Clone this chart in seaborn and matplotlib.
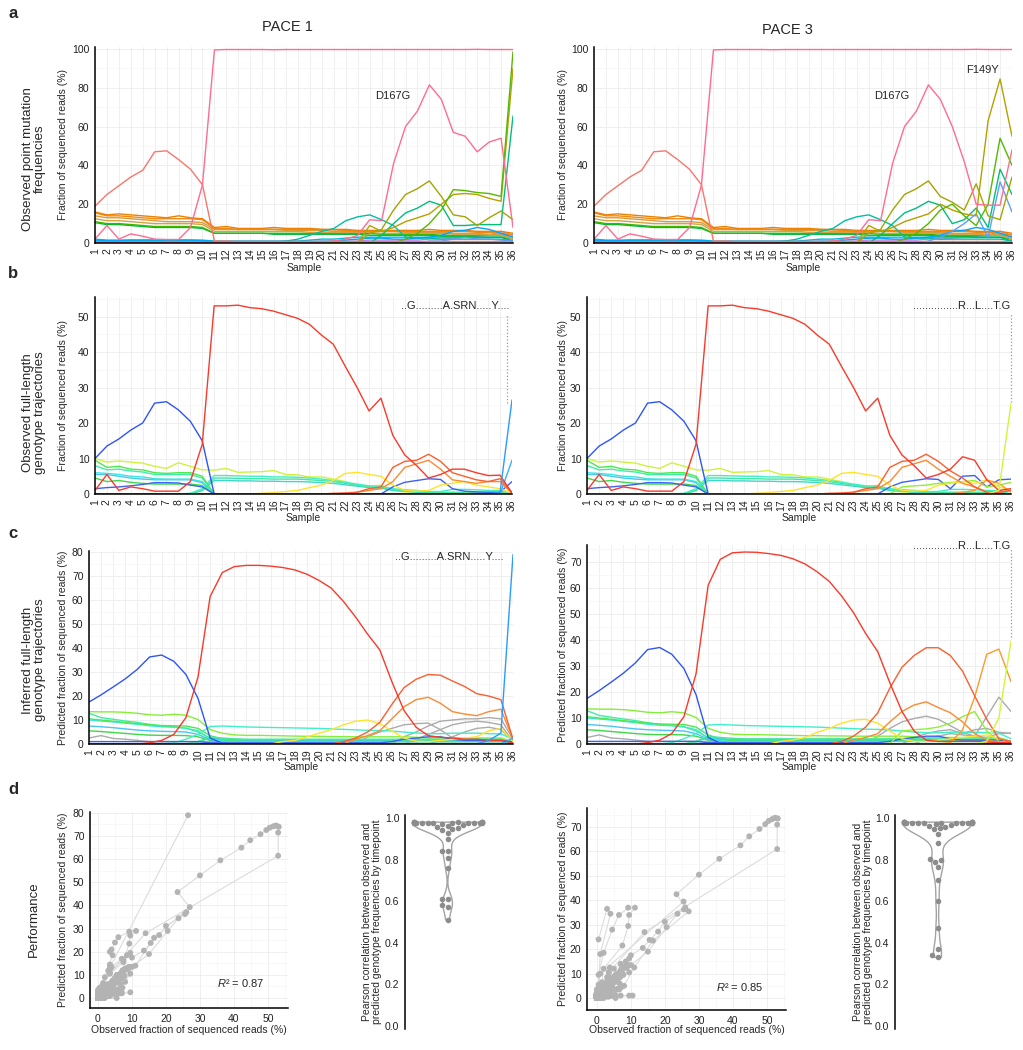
import matplotlib
matplotlib.use("Agg")  # no display
import matplotlib.pyplot as plt
from matplotlib.ticker import MultipleLocator, FormatStrFormatter
import pandas as pd
import seaborn as sns

W, H = 1023, 1050
SAMPLES = list(range(1, 37))

# ---------------------------------------------------------------- panel a
# point mutation frequencies (%), samples 1..36
A_FIX = [2, 9, 2, 4.7, 3.5, 2, 1.8, 1.8, 8, 30, 99.5, 99.7, 99.7, 99.7, 99.7, 99.6, 99.7, 99.7,
         99.7, 99.7, 99.7, 99.7, 99.7, 99.7, 99.7, 99.7, 99.7, 99.7, 99.7, 99.7, 99.7, 99.7, 99.8, 99.7, 99.7, 99.7]
A_EARLY = [19, 25, 29.5, 34, 37.5, 47, 47.5, 43, 38, 30, 1, 1, 0.8, 0.8, 0.8, 0.8, 0.8, 0.8,
           0.8, 0.8, 0.8, 0.8, 0.8, 0.8, 0.8, 0.8, 0.8, 0.8, 0.8, 0.8, 0.8, 0.8, 0.8, 0.8, 0.8, 0.5]
A_D167G_P1 = [0.3, 0.3, 0.3, 0.3, 0.3, 0.3, 0.3, 0.3, 0.3, 0.3, 0.3, 0.3, 0.3, 0.3, 0.3, 0.3, 0.3, 0.3,
              0.3, 0.5, 1, 2, 4, 12, 11.5, 41, 60, 68, 81.5, 74, 57, 55, 47, 52, 54, 8]
A_D167G_P3 = A_D167G_P1[:30] + [60, 42, 20, 19.5, 19.5, 48]
A_ORANGE1 = [16, 14.5, 15, 14.5, 14, 13.5, 13, 14, 13, 12.5, 8, 8.5, 7.5, 7.5, 7.5, 8, 7.5, 7.5,
             7.5, 7, 7, 7, 6.5, 6.5, 6.5, 6.5, 6.5, 6.5, 7, 6.5, 6.5, 6.5, 6, 6, 6, 5]
A_ORANGE2 = [15.5, 14, 14, 13.5, 13, 12.5, 12.5, 12.5, 12.5, 12, 7.5, 7.5, 7, 7, 7, 7, 7, 7,
             7, 7, 6.8, 6.5, 6, 6, 6, 6, 6, 6, 6, 6, 6, 6, 5.5, 5.5, 5, 4]
A_TAN1 = [14, 13, 13, 12.5, 12, 11.5, 11, 11, 11, 10.5, 7, 7, 7, 7, 7, 7, 6.5, 6.5,
          6.5, 6.5, 6, 6, 6, 6, 6, 6, 5.5, 5.5, 5.5, 5.5, 5, 5, 5, 4.5, 4.5, 3]
A_TAN2 = [12.5, 11.5, 11.5, 11, 10.5, 10, 10, 10, 10, 9.5, 6, 6, 6, 6, 6, 6, 6, 6,
          5.5, 5.5, 5.5, 5.5, 5.5, 5.5, 5, 5, 5, 5, 5, 5, 4.5, 4.5, 4.5, 4, 4, 2]
A_GREEN1 = [11, 10, 10, 9.5, 9, 8.5, 8.5, 8.5, 8.5, 8, 5, 5, 5, 5, 5, 5, 5, 5,
            5, 5, 5, 5, 5, 5, 4.5, 4.5, 4.5, 4.5, 4.5, 4, 4, 4, 4, 4, 4, 2]
A_GREEN2 = [10.5, 9.5, 9.5, 9, 8.5, 8, 8, 8, 8, 7.5, 5, 5, 5, 5, 5, 4.5, 4.5, 4.5,
            4.5, 4.5, 4.5, 4.5, 4.5, 4, 4, 4, 4, 4, 4, 3.5, 3.5, 3.5, 3, 3, 3, 1]
A_CYAN = [2, 1.5, 1.5, 1.5, 1.5, 1.5, 1.5, 1.5, 1.5, 1.5, 1, 1, 1, 1, 1, 1, 1, 1,
          1.5, 2, 2, 2.5, 3, 3, 3, 3, 3, 3, 3, 3, 3, 3, 3, 3, 3, 2]
A_BLUE = [1.5, 1.2, 1.2, 1.5, 1.5, 1.5, 1.5, 1.5, 1.5, 1.2, 0.8, 0.8, 0.8, 0.8, 0.8, 0.8, 0.8, 0.8,
          0.8, 1, 1, 1.5, 2, 2.5, 2.5, 2, 2, 2.5, 3, 4, 6, 6.5, 8, 7, 5, 3]
A_PURPLE = [0.5, 0.5, 0.5, 0.5, 0.5, 0.5, 0.5, 0.5, 0.5, 0.5, 0.3, 0.3, 0.3, 0.3, 0.3, 0.3, 0.3, 0.3,
            0.3, 0.3, 0.5, 0.8, 1, 1.5, 1.5, 1.5, 1.5, 1.5, 2, 2, 2.5, 3, 3.5, 4, 6, 4]
A_TEAL1 = [1, 1, 1, 1, 1, 1, 1, 1, 1, 1, 0.5, 0.5, 0.5, 0.5, 0.5, 0.5, 1, 2,
           4, 6, 7.5, 11.5, 13.5, 14.5, 12, 9, 3, 2.5, 2.5, 2, 2, 2, 2, 2, 2, 1]
A_TEAL2_P1 = [0] * 24 + [4, 10, 15.5, 18, 21.5, 19.5, 9, 9, 9.5, 9.5, 9.5, 65.5]
A_TEAL2_P3 = A_TEAL2_P1[:30] + [10, 12, 18, 8, 38, 25]
A_OLIVE1_P1 = [0] * 23 + [5, 7, 17, 25, 28, 32, 24, 14.5, 13.5, 9, 13, 16.5, 12]
A_OLIVE1_P3 = A_OLIVE1_P1[:30] + [21, 17, 30.5, 14, 12, 34]
A_OLIVE2_P1 = [0] * 23 + [9, 6, 8, 11, 13, 15, 20, 25, 25.5, 25, 23, 21.5, 90]
A_OLIVE2_P3 = A_OLIVE2_P1[:30] + [17, 15, 14, 63, 84.5, 55]
A_GREENL_P1 = [0] * 26 + [2, 5, 10, 17, 27.5, 27, 26, 25.5, 24, 98.5]
A_GREENL_P3 = A_GREENL_P1[:30] + [20, 14, 9, 20, 54, 40]
A_SKY_P1 = [0] * 28 + [1, 1, 2, 3, 2, 2, 1.5, 1]
A_SKY_P3 = [0] * 28 + [1, 3, 6, 10, 15, 3, 31.5, 16]

A_COLORS = {
    "purple": "#B983FF", "blue": "#00A5FF", "cyan": "#00BCD8", "sky": "#619CFF",
    "green2": "#00BA38", "green1": "#39B600", "tan2": "#CDA648", "tan1": "#D99B3C",
    "orange2": "#F08A12", "orange1": "#EE8000", "teal1": "#00BFA4", "teal2": "#00BF7D",
    "olive1": "#A3A500", "olive2": "#B5A000", "greenl": "#55B800",
    "early": "#F8766D", "d167g": "#FF6C91", "fix": "#FF6C91",
}

# ---------------------------------------------------------------- panels b / c
# observed (B_) and inferred (C_) full-length genotype trajectories (%)
B_RED_P1 = [1, 5.5, 1, 2, 1.5, 0.8, 0.8, 0.8, 3.5, 14, 53, 53, 53.2, 52.5, 52.2, 51.5, 50.5, 49.5,
            47.8, 44.8, 42.2, 36, 30, 23.4, 27, 16.5, 11, 8, 4.5, 5.5, 7, 7, 6, 5.2, 5.3, 0.3]
B_RED_P3 = B_RED_P1[:30] + [7, 10.5, 9.5, 4, 1, 1.5]
C_RED_P1 = [0, 0, 0, 0, 0, 0.5, 1.5, 4, 11, 28, 61.5, 71.5, 74, 74.5, 74.5, 74.2, 73.6, 72.6,
            70.8, 68.2, 65, 59.5, 53, 45.8, 39.3, 26, 14, 7, 3.5, 2.8, 2.5, 2, 2, 1.5, 1.5, 0.5]
C_RED_P3 = [0, 0, 0, 0, 0, 0.5, 1.5, 4, 10.5, 27, 61, 71, 73.5, 73.8, 73.7, 73.2, 72.5, 71.2,
            69.2, 66.2, 62.5, 57, 50.5, 42.5, 35.5, 23.5, 12.5, 5, 1.5, 1, 1, 1, 1, 0.8, 0.5, 0.5]

B_RED2_P1 = [0] * 20 + [0.2, 0.3, 0.5, 1.5, 2, 7.5, 9.2, 9.5, 11.2, 9.2, 6, 5, 4, 3.5, 4.3, 0.3]
B_RED2_P3 = B_RED2_P1[:30] + [6.5, 4.5, 2, 0.5, 0.5, 1]
C_RED2_P1 = [0] * 21 + [1, 2.5, 5, 9, 16.5, 23.5, 27, 29, 28.7, 26.3, 24, 21, 20, 18.5, 2]
C_RED2_P3 = [0] * 21 + [1, 3, 6.5, 12, 21.5, 29.5, 34, 37, 37, 34, 28, 18.5, 9.5, 2, 1]

B_ORANGE_P1 = [0] * 22 + [0.5, 1, 1.5, 3.5, 7.5, 8.5, 9.5, 7, 4, 3.5, 3, 3.5, 3.5, 0.2]
B_ORANGE_P3 = B_ORANGE_P1[:30] + [5, 3, 2, 0.5, 0.5, 1]
C_ORANGE_P1 = [0] * 22 + [2, 3.5, 5.5, 10.5, 15.5, 18.5, 19.5, 17, 13.5, 12.5, 11.8, 13.5, 14.5, 2]
C_ORANGE_P3 = [0] * 22 + [1.5, 2.5, 4, 8.5, 12.5, 15, 16.2, 14, 12, 8.5, 4, 1.5, 0.8, 0.5]

B_YELLOW_P1 = [0] * 14 + [0.2, 0.4, 0.7, 1, 1.8, 2.5, 3.8, 5.8, 6.1, 5.5, 5, 2.5, 1, 0.8,
                          1, 2.5, 3, 3.5, 2.5, 2, 1.5, 0.2]
B_YELLOW_P3 = B_YELLOW_P1[:30] + [3, 3.5, 3, 4, 2, 1]
C_YELLOW_P1 = [0] * 16 + [1, 1.5, 3, 4.5, 6, 8, 9.5, 10, 8.5, 5.5, 2.5, 1.2, 1, 1.5, 2, 2.5, 3, 5.5, 6.5, 1]
C_YELLOW_P3 = [0] * 16 + [1, 1.5, 2.5, 4.5, 6, 8, 9.2, 9.5, 8, 5, 2, 1, 1, 1.5, 2, 2.5, 3, 3.5, 2, 1]

B_BLUE = [10, 13.5, 15.5, 18, 20, 25.6, 26, 23.7, 20.5, 15] + [0] * 26
C_BLUE = [17.5, 20.5, 23.8, 27.2, 31.2, 36.3, 37.1, 34.5, 29, 19, 2.5, 0.3] + [0] * 24
B_BLUE2_P1 = [1.5, 1.8, 2, 2.3, 2.7, 3.2, 3.2, 3.1, 2.5, 2] + [0] * 15 + \
             [2, 3.3, 3.8, 4.3, 4.1, 1.5, 0.8, 0.6, 0.5, 0.5, 3.5]
B_BLUE2_P3 = B_BLUE2_P1[:30] + [1.5, 5, 5.2, 2, 4, 4.2]
C_BLUE2 = [1, 1, 1, 1, 1, 1, 1, 1, 1, 1] + [0.5] * 15 + [1, 2, 2.5, 3, 3, 2, 1.5, 1.5, 1.5, 1.5, 1]

B_YGREEN = [10, 9, 9.3, 9, 8.7, 7.8, 7.2, 8.8, 7.8, 6.8, 6.7, 7.2, 6.1, 6.2, 6.3, 6.6, 5.5, 5.4,
            4.8, 4.8, 4.2, 3.5, 2.5, 2, 2.5, 1, 0.6, 0.5, 0.3, 0.3, 0.3, 0.3, 0.3, 0.3, 0.3, 0]
C_YGREEN = [13.5, 13.4, 13.4, 13.2, 12.8, 12.2, 12, 12.4, 12, 10.2, 6, 4.5, 3.8, 3.6, 3.6, 3.5, 3.4, 3.3,
            3.2, 3.2, 3.1, 3.1, 3, 3, 3, 3, 3, 2.8, 2.5, 2.5, 2.5, 2.5, 2.5, 2.5, 2.5, 1]
B_GREEN1 = [9.5, 7.5, 7.8, 7, 6.8, 6, 5.8, 6, 6, 5] + [0] * 26
C_GREEN1 = [10.5, 10, 9.5, 9, 8.5, 8, 7.7, 7.6, 7.5, 6.5, 3.5, 2] + [1.5] * 23 + [0.5]
B_AQUA1 = [8, 6.8, 7, 6.5, 6.2, 5.5, 5.5, 5.5, 5.5, 4.5] + [0] * 26
C_AQUA1 = [12.8, 11, 10.3, 9.6, 9, 8.2, 7.5, 7.2, 6.6, 5, 2.5, 1.8] + [1.5] * 23 + [0.5]
B_CYAN1 = [6, 5.8, 5.5, 5, 4.8, 4.3, 4.2, 4.2, 4.2, 3.5] + [0] * 26
C_CYAN1 = [10, 9.6, 9.2, 8.7, 8.2, 7.6, 7.2, 7, 6.6, 5.5, 2.2, 1.5] + [1.2] * 23 + [0.5]
B_SKY1 = [5.5, 5.5, 5, 4.5, 4.2, 4, 4, 4, 4, 3.2] + [0] * 26
C_SKY1 = [7.5, 7.2, 6.8, 6.3, 5.8, 5.5, 5.3, 5.2, 5, 4, 1.8, 1.2] + [1] * 23 + [0.5]
B_GREEN2 = [4.5, 3.5, 3.8, 3.3, 3, 2.8, 2.8, 2.8, 2.8, 2.4] + [0] * 26
C_GREEN2 = [5.5, 5.2, 4.8, 4.4, 4, 3.7, 3.6, 3.6, 3.5, 3, 1.5, 1.2] + [1] * 23 + [0.5]

B_CYANL = [0] * 8 + [0.2, 1.5, 5.2, 5.2, 5.1, 5, 5, 4.8, 4.8, 4.7, 4.5, 4.2, 3.8, 3.3, 2.8, 2.3,
                     2.2, 1.5, 1.2, 1, 0.7, 0.7, 1.3, 1.3, 1.2, 1, 1, 0]
C_CYANL = [0] * 7 + [0.5, 2, 4, 7.3, 7.5, 7.3, 7.1, 7, 6.9, 6.8, 6.7, 6.6, 6.5, 6.3, 6.1, 5.9, 5.7,
                     5.6, 5.4, 5, 4.6, 4.3, 4.3, 4.5, 4.5, 4.5, 4.3, 4.2, 2]
B_AQUAL = [0] * 9 + [1, 4.5, 4.5, 4.4, 4.3, 4.3, 4.2, 4.2, 4.2, 4, 3.8, 3.5, 3, 2.5, 2, 1.8, 1.2,
                     1, 0.8, 0.5, 0.5, 0.5, 0.5, 0.5, 0.5, 0.5, 0]
C_AQUAL = [0] * 9 + [1, 3, 2.5, 2.2] + [2] * 22 + [0.5]
B_TEALL = [0] * 9 + [1, 3.8, 3.8, 3.7, 3.7, 3.6, 3.6, 3.5, 3.5, 3.4, 3.2, 3, 2.6, 2.2, 1.8, 1.6, 1,
                     0.8, 0.5, 0.3, 0.3, 0.3, 0.3, 0.3, 0.3, 0.3, 0]
C_TEALL = [0] * 9 + [0.8, 2.5, 2, 1.8] + [1.6] * 22 + [0.5]

# last genotype of each run (marked by sequence label)
B_FINAL_P1 = [0] * 34 + [0.5, 26.5]
C_FINAL_P1 = [0] * 33 + [1.5, 4.5, 79]
B_SKY2_P1 = [0] * 35 + [9.5]
C_SKY2_P1 = [0] * 35 + [2.5]
B_FINAL_P3 = [0] * 34 + [1, 25.5]
C_FINAL_P3 = [0] * 33 + [1, 10, 39.5]
B_ORANGE2_P3 = [0] * 31 + [0.5, 1, 4, 3, 0.5]
C_ORANGE2_P3 = [0] * 30 + [0.5, 5.5, 18, 34.5, 36.5, 24]
B_GREENL_P3 = [0] * 26 + [2, 2.3, 2.5, 3, 3.2, 3.5, 3.8, 2, 2.5, 3.3]
C_GREENL_P3 = [0] * 26 + [5, 5.5, 5.8, 6.5, 8, 10.5, 12.5, 5, 1, 0.5]

# inferred-only genotypes (grey)
C_GREY0 = [2.5, 3.5, 2.3, 2, 1.5] + [1] * 31
C_GREY1_P1 = [0] * 23 + [3, 5, 6.5, 8, 8.5, 8.7, 6, 2.5, 2, 2, 2, 2, 0.5]
C_GREY2_P1 = [0] * 26 + [3, 5, 7.5, 9.5, 10, 10.5, 10.5, 11, 10.5, 2]
C_GREY3_P1 = [0] * 27 + [2, 4, 6, 8, 9, 9.5, 9, 8, 1]
C_GREY4_P1 = [0] * 29 + [1.5, 3, 5, 6.5, 7, 6, 1]
C_GREY1_P3 = [0] * 24 + [3, 6, 8.5, 9.8, 10.7, 9.5, 7, 4.5, 3, 10.5, 18, 12.5]
C_GREY2_P3 = [0] * 27 + [2.5, 4, 5, 5.5, 4, 5.5, 6, 4.5, 4]
C_GREY3_P3 = [0] * 28 + [2, 3, 4, 3.5, 3, 2.5, 4, 4.2]

GENO_COLORS_B = {
    "green2": "#3ED84A", "sky1": "#4DC4F7", "cyan1": "#3CE6E0", "aqua1": "#3CEFA8",
    "green1": "#4EE84E", "ygreen": "#CFF23F", "tealL": "#3ED6D0", "aquaL": "#44E6A0",
    "cyanL": "#40EFC8", "greenL": "#8FEF3A", "blue2": "#3C62F4", "yellow": "#FFE32B",
    "orange": "#FB8A33", "orange2": "#FF9A2A", "red2": "#FB5E2E", "blue": "#2F55F5",
    "red": "#F93A2A", "sky2": "#3AB0FF", "final": None,
}
GREY = "#ABABAB"

# ---------------------------------------------------------------- panel d
CORR_P1 = [0.51, 0.57, 0.58, 0.61, 0.612, 0.76, 0.81, 0.84, 0.842, 0.90, 0.93, 0.94,
           0.945, 0.95, 0.955, 0.96, 0.965, 0.97, 0.975, 0.975, 0.976, 0.976, 0.977, 0.977,
           0.977, 0.978, 0.978, 0.978, 0.978, 0.979, 0.979, 0.979, 0.98, 0.98, 0.98, 0.98]
CORR_P3 = [0.33, 0.34, 0.37, 0.47, 0.60, 0.70, 0.765, 0.79, 0.80, 0.802, 0.88, 0.925,
           0.945, 0.95, 0.955, 0.96, 0.965, 0.97, 0.975, 0.975, 0.976, 0.976, 0.977, 0.977,
           0.977, 0.978, 0.978, 0.978, 0.978, 0.979, 0.979, 0.979, 0.98, 0.98, 0.98, 0.98]
R2_TEXT = {"P1": "0.87", "P3": "0.85"}

SEQ_P1 = "..G.........A.SRN.....Y...."
SEQ_P3 = "...............R...L....T.G"


def add_axes(fig, box):
    """box = (left, top, right, bottom) in pixels."""
    x0, y0, x1, y1 = box
    return fig.add_axes([x0 / W, 1 - y1 / H, (x1 - x0) / W, (y1 - y0) / H])


def long_frame(series):
    rows = []
    for name, vals in series.items():
        assert len(vals) == 36, name
        rows += [(s, v, name) for s, v in zip(SAMPLES, vals)]
    return pd.DataFrame(rows, columns=["sample", "value", "series"])


def pair_frame(obs, pred):
    rows = []
    for name in obs:
        if name in pred:
            rows += [(s, o, p, name) for s, o, p in zip(SAMPLES, obs[name], pred[name])]
    return pd.DataFrame(rows, columns=["sample", "obs", "pred", "series"])


def style(ax, grid=True):
    for side in ("top", "right"):
        ax.spines[side].set_visible(False)
    for side in ("left", "bottom"):
        ax.spines[side].set_color("black")
        ax.spines[side].set_linewidth(1.1)
    ax.tick_params(which="major", length=2.5, width=0.8, color="black",
                   labelsize=7.5, pad=1.5, labelcolor="#222222")
    ax.tick_params(which="minor", length=0)
    if grid:
        ax.grid(True, which="major", color="#EDEDED", lw=0.6)
        ax.grid(True, which="minor", axis="y", color="#F5F5F5", lw=0.5)
        ax.set_axisbelow(True)


def labels(ax, box, xlab=None, xlab_y=None, ylab=None, ylab_x=None, size=7.5):
    x0, y0, x1, y1 = box
    if xlab:
        ax.set_xlabel(xlab, fontsize=size, va="center")
        ax.xaxis.set_label_coords(0.5, -(xlab_y - y1) / (y1 - y0))
    if ylab:
        ax.set_ylabel(ylab, fontsize=size, va="center", linespacing=1.05)
        ax.yaxis.set_label_coords((ylab_x - x0) / (x1 - x0), 0.5)


def trajectories(fig, box, series, palette, ymax, ystep, ylab, xlab_y, ylab_x):
    ax = add_axes(fig, box)
    df = long_frame(series)
    sns.lineplot(data=df, x="sample", y="value", hue="series", hue_order=list(series),
                 palette=palette, estimator=None, legend=False, lw=1.0, ax=ax)
    ax.set_xlim(1, 36)
    ax.set_ylim(0, ymax)
    ax.set_xticks(SAMPLES)
    ax.set_xticklabels([str(s) for s in SAMPLES], rotation=90)
    ax.yaxis.set_major_locator(MultipleLocator(ystep))
    ax.yaxis.set_minor_locator(MultipleLocator(ystep / 2))
    style(ax)
    labels(ax, box, "Sample", xlab_y, ylab, ylab_x)
    return ax


def scatter(fig, box, obs, pred, xlim, ylim, ymax_tick, r2, r2_xy, ylab_x):
    ax = add_axes(fig, box)
    df = pair_frame(obs, pred)
    sns.lineplot(data=df, x="obs", y="pred", units="series", estimator=None, sort=False,
                 color="#DCDCDC", lw=0.8, ax=ax)
    sns.scatterplot(data=df, x="obs", y="pred", color="#B3B3B3", s=18, edgecolor="none",
                    ax=ax, zorder=3)
    ax.set_xlim(*xlim)
    ax.set_ylim(*ylim)
    ax.set_xticks(range(0, 51, 10))
    ax.set_yticks(range(0, ymax_tick + 1, 10))
    ax.xaxis.set_minor_locator(MultipleLocator(5))
    ax.yaxis.set_minor_locator(MultipleLocator(5))
    style(ax)
    ax.grid(True, which="minor", axis="x", color="#F5F5F5", lw=0.5)
    ax.text(r2_xy[0], r2_xy[1], r"$\mathit{R}$² = " + r2, fontsize=8, ha="left", va="center")
    labels(ax, box, "Observed fraction of sequenced reads (%)", 1030,
           "Predicted fraction of sequenced reads (%)", ylab_x)
    return ax


def violin(fig, box, vals, ylab_x):
    ax = add_axes(fig, box)
    sns.violinplot(y=vals, ax=ax, cut=0, inner=None, fill=False, color="#A3A3A3",
                   linewidth=1.0, width=0.8, bw_adjust=0.5)
    sns.swarmplot(y=vals, ax=ax, color="#8C8C8C", size=4.0)
    ax.set_xlim(-0.5, 0.5)
    ax.set_ylim(-0.0144, 1.0144)
    ax.set_yticks([0, 0.2, 0.4, 0.6, 0.8, 1.0])
    ax.yaxis.set_major_formatter(FormatStrFormatter("%.1f"))
    style(ax, grid=False)
    ax.spines["bottom"].set_visible(False)
    ax.set_xticks([])
    ax.set_xlabel("")
    labels(ax, box, ylab="Pearson correlation between observed and\n"
                         "predicted genotype frequencies by timepoint", ylab_x=ylab_x)
    return ax


def main():
    sns.set_theme(style="white")
    plt.rcParams["font.family"] = ["Liberation Sans", "DejaVu Sans"]
    plt.rcParams["mathtext.fontset"] = "custom"
    plt.rcParams["mathtext.it"] = "Liberation Sans:italic"
    plt.rcParams["mathtext.rm"] = "Liberation Sans"

    fig = plt.figure(figsize=(W / 100, H / 100), dpi=100)

    # ---- a : point mutations
    a_common = {
        "purple": A_PURPLE, "cyan": A_CYAN, "green2": A_GREEN2, "green1": A_GREEN1,
        "tan2": A_TAN2, "tan1": A_TAN1, "orange2": A_ORANGE2, "orange1": A_ORANGE1,
        "teal1": A_TEAL1,
    }
    a_p1 = dict(a_common, blue=A_BLUE, sky=A_SKY_P1, teal2=A_TEAL2_P1, olive1=A_OLIVE1_P1,
                olive2=A_OLIVE2_P1, greenl=A_GREENL_P1, early=A_EARLY, d167g=A_D167G_P1, fix=A_FIX)
    a_p3 = dict(a_common, blue=A_BLUE, sky=A_SKY_P3, teal2=A_TEAL2_P3, olive1=A_OLIVE1_P3,
                olive2=A_OLIVE2_P3, greenl=A_GREENL_P3, early=A_EARLY, d167g=A_D167G_P3, fix=A_FIX)
    ylab_a = "Fraction of sequenced reads (%)"
    ax = trajectories(fig, (95, 47, 513, 243), a_p1, A_COLORS, 101, 20, ylab_a, 268, 63)
    ax.text(25.9, 76, "D167G", fontsize=8, ha="center", va="center")
    ax = trajectories(fig, (594, 47, 1012, 243), a_p3, A_COLORS, 101, 20, ylab_a, 268, 563)
    ax.text(25.9, 76, "D167G", fontsize=8, ha="center", va="center")
    ax.text(33.5, 89, "F149Y", fontsize=8, ha="center", va="center")

    # ---- b / c : genotypes
    b_common = {
        "green2": B_GREEN2, "sky1": B_SKY1, "cyan1": B_CYAN1, "aqua1": B_AQUA1,
        "green1": B_GREEN1, "ygreen": B_YGREEN, "tealL": B_TEALL, "aquaL": B_AQUAL,
        "cyanL": B_CYANL, "blue": B_BLUE,
    }
    c_common = {
        "green2": C_GREEN2, "sky1": C_SKY1, "cyan1": C_CYAN1, "aqua1": C_AQUA1,
        "green1": C_GREEN1, "ygreen": C_YGREEN, "tealL": C_TEALL, "aquaL": C_AQUAL,
        "cyanL": C_CYANL, "blue": C_BLUE,
    }
    b_p1 = dict(b_common, blue2=B_BLUE2_P1, yellow=B_YELLOW_P1, orange=B_ORANGE_P1,
                red2=B_RED2_P1, sky2=B_SKY2_P1, red=B_RED_P1, final=B_FINAL_P1)
    b_p3 = dict(b_common, blue2=B_BLUE2_P3, greenL=B_GREENL_P3, yellow=B_YELLOW_P3,
                orange=B_ORANGE_P3, orange2=B_ORANGE2_P3, red2=B_RED2_P3, red=B_RED_P3,
                final=B_FINAL_P3)
    c_p1 = dict(grey0=C_GREY0, grey1=C_GREY1_P1, grey2=C_GREY2_P1, grey3=C_GREY3_P1,
                grey4=C_GREY4_P1, **c_common, blue2=C_BLUE2, yellow=C_YELLOW_P1,
                orange=C_ORANGE_P1, red2=C_RED2_P1, sky2=C_SKY2_P1, red=C_RED_P1,
                final=C_FINAL_P1)
    c_p3 = dict(grey0=C_GREY0, grey1=C_GREY1_P3, grey2=C_GREY2_P3, grey3=C_GREY3_P3,
                **c_common, blue2=C_BLUE2, greenL=C_GREENL_P3, yellow=C_YELLOW_P3,
                orange=C_ORANGE_P3, orange2=C_ORANGE2_P3, red2=C_RED2_P3, red=C_RED_P3,
                final=C_FINAL_P3)

    greys = {f"grey{i}": GREY for i in range(5)}
    pal_p1 = dict(GENO_COLORS_B, final="#2B9BFF", **greys)
    pal_p3 = dict(GENO_COLORS_B, final="#D6F23A", **greys)
    pal_c1 = dict(pal_p1, ygreen="#86EE3A")
    pal_c3 = dict(pal_p3, ygreen="#86EE3A")

    ax = trajectories(fig, (95, 297, 512, 494), b_p1, pal_p1, 55.5, 10, ylab_a, 518, 63)
    ax.vlines(35.6, 25.5, 50.5, colors="#9A9A9A", linestyles=":", lw=0.9)
    ax.text(35.8, 53, SEQ_P1, fontsize=8, ha="right", va="center")
    ax = trajectories(fig, (587, 297, 1011, 494), b_p3, pal_p3, 55.5, 10, ylab_a, 518, 563)
    ax.vlines(36, 26, 51, colors="#9A9A9A", linestyles=":", lw=0.9, clip_on=False)
    ax.text(35.9, 53, SEQ_P3, fontsize=8, ha="right", va="center")

    ylab_c = "Predicted fraction of sequenced reads (%)"
    ax = trajectories(fig, (89, 551, 513, 744), c_p1, pal_c1, 80.5, 10, ylab_c, 767, 63)
    ax.text(35.2, 78, SEQ_P1, fontsize=8, ha="right", va="center")
    ax = trajectories(fig, (587, 545, 1011, 744), c_p3, pal_c3, 76.5, 10, ylab_c, 767, 563)
    ax.vlines(36, 41, 75, colors="#9A9A9A", linestyles=":", lw=0.9, clip_on=False)
    ax.text(35.9, 76, SEQ_P3, fontsize=8, ha="right", va="center")

    # ---- d : performance
    scatter(fig, (90, 812, 288, 1008), b_p1, c_p1, (-2.35, 55.9), (-4.3, 80.4), 80,
            R2_TEXT["P1"], (35, 6.5), 63)
    violin(fig, (405, 815, 490, 1029), CORR_P1, 372)
    scatter(fig, (587, 808, 786, 1010), b_p3, c_p3, (-2.9, 55.6), (-4.9, 77.8), 70,
            R2_TEXT["P3"], (35, 4.5), 563)
    violin(fig, (895, 815, 980, 1029), CORR_P3, 863)

    # ---- titles, row labels, panel letters
    fig.text(287 / W, 1 - 27 / H, "PACE 1", fontsize=10.5, ha="center", va="center")
    fig.text(787 / W, 1 - 30 / H, "PACE 3", fontsize=10.5, ha="center", va="center")
    rows = [
        ("Observed point mutation\nfrequencies", 159),
        ("Observed full-length\ngenotype trajectories", 413),
        ("Inferred full-length\ngenotype trajectories", 660),
        ("Performance", 919),
    ]
    for text, yc in rows:
        fig.text(34 / W, 1 - yc / H, text, fontsize=9.5, rotation=90, ha="center",
                 va="center", linespacing=1.0)
    for letter, yc in [("a", 13), ("b", 273), ("c", 534), ("d", 790)]:
        fig.text(13 / W, 1 - yc / H, letter, fontsize=12, fontweight="bold",
                 ha="center", va="center")

    fig.savefig("out.png", dpi=100)
    plt.close(fig)


if __name__ == "__main__":
    main()
